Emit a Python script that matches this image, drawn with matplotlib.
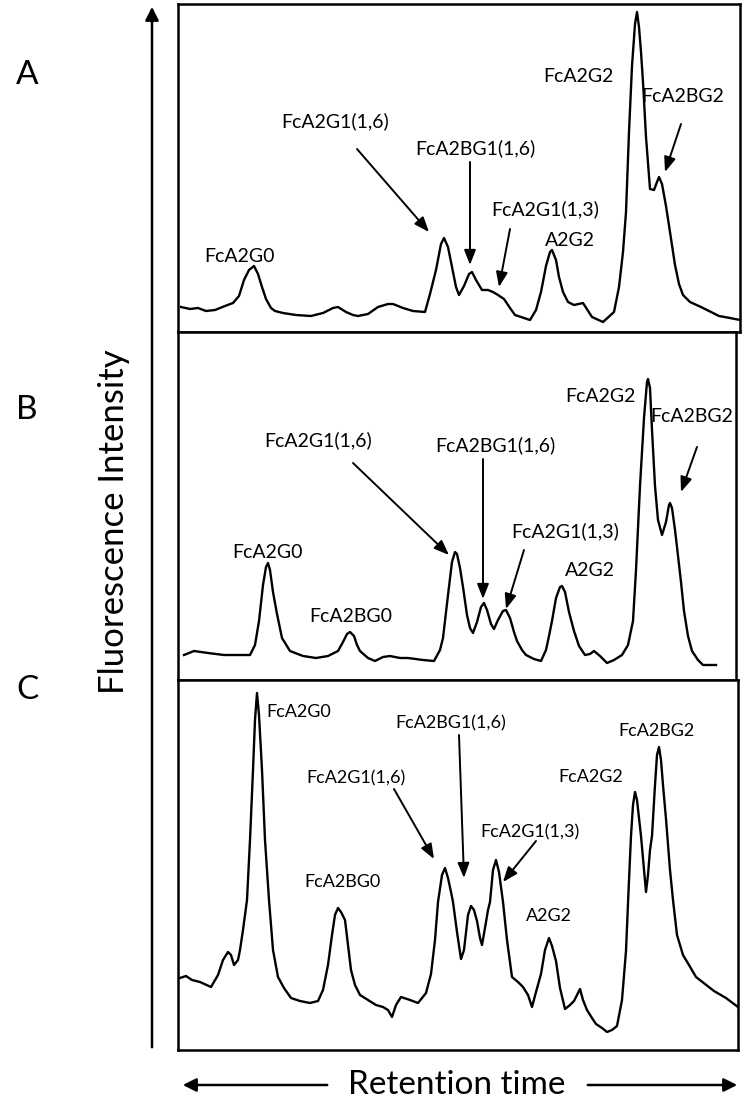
import matplotlib
matplotlib.use("Agg")
import matplotlib.pyplot as plt

plt.rcParams["font.family"] = ["Lato", "DejaVu Sans"]

# chromatogram traces (retention time, fluorescence), arbitrary units
rt_a = [3, 12, 20, 28, 37, 47, 55, 61, 66, 71, 76, 80, 84, 88, 93, 97, 105, 118, 133, 145,
        155, 160, 168, 175, 180, 190, 200, 210, 215, 225, 235, 247,
        252, 258, 263, 266, 270, 274, 278, 281, 286, 291, 294, 298, 304, 310, 315, 320, 326, 332,
        337, 352, 358, 363, 368, 372, 374, 378, 381, 385, 390, 396, 405, 414, 425, 436, 441, 445,
        448, 451, 454, 457, 459, 461, 463, 465, 468, 472, 476, 479, 481, 484, 488, 492, 497, 501,
        505, 512, 523, 541, 552, 562]
int_a = [25, 23, 24, 21, 22, 26, 29, 36, 52, 62, 66, 58, 45, 33, 24, 21, 19, 17, 16, 19,
         24, 25, 20, 17, 16, 18, 25, 28, 28, 24, 21, 20,
         38, 62, 88, 94, 85, 65, 45, 37, 46, 58, 60, 52, 42, 42, 40, 37, 33, 24,
         17, 12, 22, 40, 66, 80, 82, 72, 55, 40, 30, 27, 29, 15, 10, 20, 45, 80,
         120, 200, 266, 308, 320, 305, 280, 250, 195, 143, 142, 150, 155, 148, 126, 100, 67, 48,
         37, 30, 25, 16, 14, 12]

rt_b = [6, 16, 30, 46, 72, 77, 81, 85, 88, 90, 92, 95, 99, 104, 112, 125, 138, 150, 160, 165,
        169, 172, 176, 179, 182, 190, 197, 205, 212, 222, 230, 245, 256, 262, 265, 270, 274, 277,
        279, 282, 285, 289, 292, 295, 299, 303, 306, 309, 313, 316, 320, 325, 328, 332, 336, 339,
        344, 348, 356, 363, 368, 371, 374, 378, 382, 384, 387, 391, 396, 401, 407, 412, 416, 422,
        429, 436, 444, 450, 455, 458, 462, 466, 469, 470, 472, 474, 477, 480, 484, 488, 491, 492,
        494, 497, 499, 503, 506, 510, 514, 520, 525, 538]
int_b = [25, 29, 27, 25, 25, 35, 59, 95, 113, 117, 110, 88, 66, 42, 29, 24, 22, 24, 29, 38,
         46, 48, 44, 35, 29, 22, 19, 23, 24, 22, 22, 20, 19, 30, 42, 85, 118, 128,
         126, 112, 93, 65, 52, 47, 58, 73, 77, 70, 56, 51, 60, 69, 70, 62, 48, 39,
         30, 25, 21, 19, 30, 44, 59, 82, 93, 94, 88, 68, 49, 34, 25, 26, 29, 24,
         17, 20, 25, 35, 59, 110, 194, 262, 298, 301, 292, 250, 194, 160, 145, 158, 175, 177,
         172, 150, 133, 98, 69, 44, 29, 20, 15, 15]

rt_c = [2, 8, 14, 22, 33, 40, 45, 50, 53, 56, 60, 62, 65, 69, 72, 75, 77, 79, 81, 84,
        87, 91, 95, 100, 106, 113, 122, 132, 140, 145, 150, 154, 157, 160, 163, 167, 170, 173,
        177, 182, 190, 198, 205, 210, 214, 218, 223, 232, 240, 248, 253, 257, 260, 264, 267, 270,
        273, 275, 279, 283, 286, 290, 293, 296, 299, 302, 304, 307, 310, 312, 315, 318, 321, 325,
        329, 334, 340, 345, 350, 354, 358, 363, 367, 371, 374, 378, 382, 387, 392, 396, 402, 405,
        409, 414, 418, 424, 429, 434, 439, 444, 448, 451, 453, 455, 457, 459, 461, 463, 466, 468,
        470, 472, 474, 477, 479, 481, 483, 485, 488, 492, 495, 499, 505, 511, 518, 527, 536, 548, 560]
int_c = [72, 74, 70, 68, 63, 75, 90, 98, 95, 85, 90, 100, 120, 150, 210, 280, 330, 357, 335, 280,
         210, 150, 100, 73, 62, 52, 49, 47, 49, 60, 85, 115, 135, 142, 138, 130, 105, 80,
         65, 55, 50, 45, 43, 40, 33, 45, 53, 50, 47, 57, 76, 110, 148, 175, 182, 172,
         158, 148, 118, 91, 100, 135, 144, 140, 129, 112, 105, 122, 140, 148, 180, 190, 178, 148,
         110, 73, 68, 63, 55, 43, 58, 76, 100, 112, 104, 89, 62, 41, 45, 49, 61, 50,
         40, 32, 26, 22, 18, 20, 24, 50, 99, 170, 214, 245, 258, 250, 232, 214, 180, 158,
         175, 200, 214, 265, 295, 303, 290, 265, 231, 180, 150, 115, 95, 85, 73, 66, 59, 52, 43]

panel_letters = ["A", "B", "C"]

# peak labels: (text, x, y, ha) and arrows: (tail, tip) in data units
labels_a = [("FcA2G0", 61, 76, "center"), ("FcA2G1(1,6)", 157, 211, "center"),
            ("FcA2BG1(1,6)", 297, 184, "center"), ("FcA2G1(1,3)", 367, 123, "center"),
            ("A2G2", 392, 92, "center"), ("FcA2G2", 400, 256, "center"),
            ("FcA2BG2", 505, 235, "center")]
arrows_a = [((179, 183), (251, 100)), ((292, 170), (292, 67)),
            ((332, 103), (321, 45)), ((503, 208), (487, 160))]

labels_b = [("FcA2G0", 90, 128, "center"), ("FcA2BG0", 173, 64, "center"),
            ("FcA2G1(1,6)", 140, 240, "center"), ("FcA2BG1(1,6)", 317, 235, "center"),
            ("FcA2G1(1,3)", 387, 149, "center"), ("A2G2", 412, 110, "center"),
            ("FcA2G2", 422, 283, "center"), ("FcA2BG2", 514, 263, "center")]
arrows_b = [((175, 217), (271, 125)), ((305, 221), (305, 81)),
            ((346, 130), (328, 71)), ((519, 233), (503, 188))]

labels_c = [("FcA2G0", 88, 338, "left"), ("FcA2BG0", 165, 168, "center"),
            ("FcA2G1(1,6)", 178, 272, "center"), ("FcA2BG1(1,6)", 273, 327, "center"),
            ("FcA2G1(1,3)", 352, 218, "center"), ("A2G2", 371, 134, "center"),
            ("FcA2G2", 413, 273, "center"), ("FcA2BG2", 479, 319, "center")]
arrows_c = [((216, 261), (256, 191)), ((281, 315), (286, 172)),
            ((358, 209), (325, 168))]

W, H = 747, 1111
fig = plt.figure(figsize=(W / 100, H / 100), dpi=100)


def box(left, top, right, bottom):
    return [left / W, (H - bottom) / H, (right - left) / W, (bottom - top) / H]


panels = [
    (box(178, 4, 740, 332), rt_a, int_a, labels_a, arrows_a, 14),
    (box(178, 332, 736, 680), rt_b, int_b, labels_b, arrows_b, 14),
    (box(178, 680, 738, 1050), rt_c, int_c, labels_c, arrows_c, 13),
]

for rect, rt, inten, labels, arrows, fs in panels:
    ax = fig.add_axes(rect)
    ax.plot(rt, inten, color="black", lw=1.7)
    ax.set_xlim(0, rect[2] * W)
    ax.set_ylim(0, rect[3] * H)
    ax.set_xticks([])
    ax.set_yticks([])
    for s in ax.spines.values():
        s.set_linewidth(1.8)
    for text, x, y, ha in labels:
        ax.text(x, y, text, ha=ha, va="center", fontsize=fs)
    for tail, tip in arrows:
        ax.annotate("", xy=tip, xytext=tail,
                    arrowprops=dict(arrowstyle="-|>,head_length=0.9,head_width=0.35",
                                    color="black", lw=1.4, shrinkA=0, shrinkB=0))

# panel letters
for letter, y in zip(panel_letters, [75, 410, 690]):
    fig.text(16 / W, 1 - y / H, letter, fontsize=24, ha="left", va="center")

# intensity axis arrow
fig.add_artist(matplotlib.patches.FancyArrowPatch(
    (152 / W, 1 - 1050 / H), (152 / W, 1 - 4 / H), transform=fig.transFigure,
    arrowstyle="-|>,head_length=8,head_width=4", color="black", lw=1.8))
fig.text(114 / W, 1 - 522 / H, "Fluorescence Intensity", rotation=90,
         fontsize=25, ha="center", va="center")

# retention time arrows
for x0, x1 in [(330, 180), (585, 740)]:
    fig.add_artist(matplotlib.patches.FancyArrowPatch(
        (x0 / W, 1 - 1085 / H), (x1 / W, 1 - 1085 / H), transform=fig.transFigure,
        arrowstyle="-|>,head_length=8,head_width=4", color="black", lw=1.8))
fig.text(457 / W, 1 - 1085 / H, "Retention time", fontsize=24, ha="center", va="center")

fig.savefig("out.png", dpi=100)
